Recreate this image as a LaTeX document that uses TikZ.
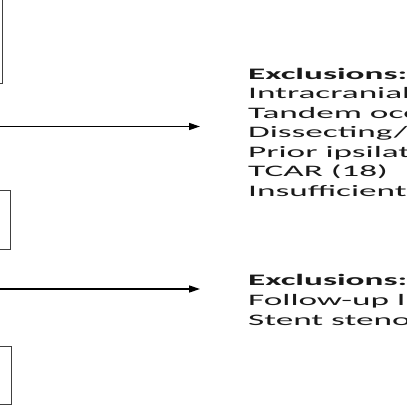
\documentclass[tikz,border=0pt]{standalone}
\usepackage{fontspec}
\usetikzlibrary{arrows.meta}
\newfontfamily\widefont{Carlito}[FakeStretch=2.2]
\begin{document}
\begin{tikzpicture}[x=1pt,y=-1pt,
  boxst/.style={draw=black!75,line width=1.4pt,fill=white,inner sep=0pt},
  txt/.style={anchor=base west,inner sep=0pt,text=black!90,font=\widefont\fontsize{16}{19.5}\selectfont},
  hd/.style={txt,font=\widefont\bfseries\fontsize{16}{19.5}\selectfont},
  arr/.style={line width=1.4pt,-{Triangle[length=11pt,width=7pt]}}]
\useasboundingbox (0,0) rectangle (407,407);
\clip (0,0) rectangle (407,407);
% boxes
\node[boxst,anchor=south east,minimum width=150pt,minimum height=124pt] (box1) at (3,84) {};
\node[boxst,anchor=north east,minimum width=150pt,minimum height=59pt] (box2) at (11,190) {};
\node[boxst,anchor=north east,minimum width=150pt,minimum height=58pt] (box3) at (12,346) {};
% exclusions 1
\node[hd]  (e1h) at (248,79)  {Exclusions:};
\node[txt] (e1a) at (248,98.5)  {Intracranial};
\node[txt] (e1b) at (248,118) {Tandem occ};
\node[txt] (e1c) at (248,137.5) {Dissecting/};
\node[txt] (e1d) at (248,157) {Prior ipsilat};
\node[txt] (e1e) at (248,176.5) {TCAR (18)};
\node[txt] (e1f) at (248,196) {Insufficient};
% exclusions 2
\node[hd]  (e2h) at (248,285) {Exclusions:};
\node[txt] (e2a) at (248,305) {Follow-up l};
\node[txt] (e2b) at (248,325) {Stent steno};
% arrows
\coordinate (s1) at (-20,126.5);
\coordinate (t1) at (200,126.5);
\coordinate (s2) at (-20,289);
\coordinate (t2) at (200,289);
\draw[arr] (s1) -- (t1);
\draw[arr] (s2) -- (t2);
\end{tikzpicture}
\end{document}
